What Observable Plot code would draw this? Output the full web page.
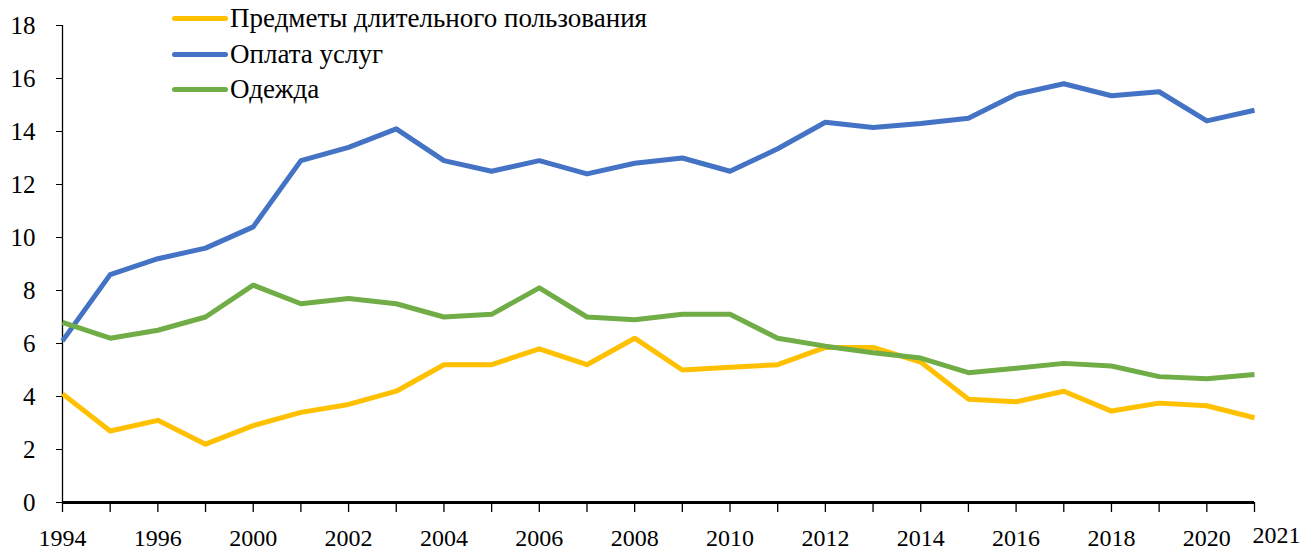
<!DOCTYPE html>
<html>
<head>
<meta charset="utf-8">
<script src="https://cdn.jsdelivr.net/npm/d3@7"></script>
<script src="https://cdn.jsdelivr.net/npm/@observablehq/plot@0.6"></script>
<style>
  html, body { margin: 0; background: #fff; overflow: hidden; }
  #wrap { position: relative; width: 1313px; height: 552px; }
  #wrap svg { display: block; }
  #wrap svg, #wrap svg text { font-family: 'Liberation Serif' !important; }
  #legend { position: absolute; left: 172px; top: 1px; font-family: 'Liberation Serif'; font-size: 27px; color: #000; }
  .row { display: flex; align-items: center; height: 35.5px; }
  .sw { width: 56px; height: 5px; border-radius: 3px; margin-right: 2px; }
</style>
</head>
<body>
<div id="wrap"><div id="legend"></div></div>
<script>
const years = ["1994","1995","1996","1998","2000","2001","2002","2003","2004","2005","2006","2007","2008","2009","2010","2011","2012","2013","2014","2015","2016","2017","2018","2019","2020","2021"];
const xLabels = ["1994","1996","2000","2002","2004","2006","2008","2010","2012","2014","2016","2018","2020"];
const yTicks = [0,2,4,6,8,10,12,14,16,18];
const seriesNames = ["Предметы длительного пользования","Оплата услуг","Одежда"];
const seriesColors = ["#FFC000","#4472C4","#70AD47"];
const durables = [4.1,2.7,3.1,2.2,2.9,3.4,3.7,4.2,5.2,5.2,5.8,5.2,6.2,5.0,5.1,5.2,5.85,5.85,5.3,3.9,3.8,4.2,3.45,3.75,3.65,3.2];
const services = [6.1,8.6,9.2,9.6,10.4,12.9,13.4,14.1,12.9,12.5,12.9,12.4,12.8,13.0,12.5,13.35,14.35,14.15,14.3,14.5,15.4,15.8,15.35,15.5,14.4,14.8];
const clothing = [6.8,6.2,6.5,7.0,8.2,7.5,7.7,7.5,7.0,7.1,8.1,7.0,6.9,7.1,7.1,6.2,5.9,5.65,5.45,4.9,5.07,5.25,5.15,4.75,4.67,4.83];

const valuesBySeries = [durables, services, clothing];
const data = [];
valuesBySeries.forEach((vals, s) => vals.forEach((v, i) => data.push({series: seriesNames[s], year: years[i], value: v})));

const chart = Plot.plot({
  width: 1313, height: 552,
  marginLeft: 62, marginRight: 59, marginTop: 25, marginBottom: 50,
  style: {fontFamily: "Liberation Serif", fontSize: "24px", color: "#000", background: "#fff", overflow: "visible"},
  x: {type: "point", domain: years, padding: 0, round: false},
  y: {domain: [0, 18]},
  color: {domain: seriesNames, range: seriesColors},
  marks: [
    Plot.axisY({ticks: yTicks, tickSize: 6, tickPadding: 21, label: null, tickFormat: d => String(d), stroke: "#000", fontSize: 25}),
    Plot.axisX({ticks: years, tickSize: 10, tickPadding: 16, label: null, tickFormat: d => xLabels.includes(d) ? d : "", stroke: "#000", strokeWidth: 1.3, fontSize: 24}),
    Plot.ruleX([years[0]], {y1: 0, y2: 18, stroke: "#000", strokeWidth: 1.3}),
    Plot.line(data, {x: "year", y: "value", z: "series", stroke: "series", strokeWidth: 5, strokeLinejoin: "round", strokeLinecap: "butt"}),
    Plot.ruleY([0], {stroke: "#000", strokeWidth: 3}),
    Plot.text([years[years.length - 1]], {x: d => d, y: () => 0, dx: 22, dy: 33, text: d => d, fill: "#000", fontSize: 24})
  ]
});
document.getElementById("wrap").prepend(chart);

const legend = document.getElementById("legend");
seriesNames.forEach((name, i) => {
  const row = document.createElement("div");
  row.className = "row";
  const sw = document.createElement("div");
  sw.className = "sw";
  sw.style.background = seriesColors[i];
  const t = document.createElement("span");
  t.textContent = name;
  row.appendChild(sw); row.appendChild(t);
  legend.appendChild(row);
});
</script>
</body>
</html>
